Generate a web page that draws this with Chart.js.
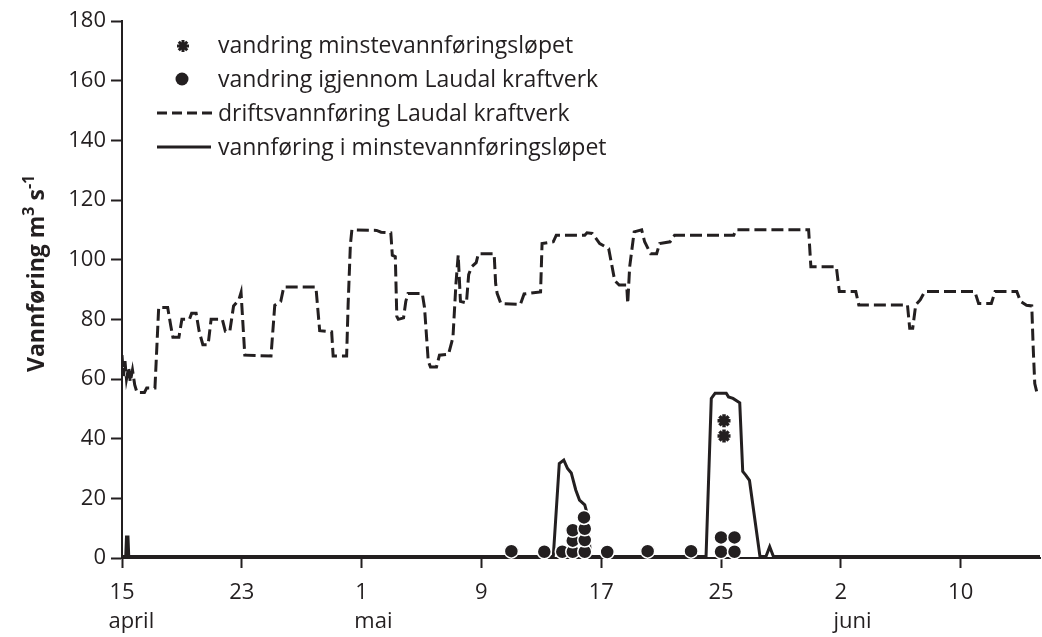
<!DOCTYPE html>
<html>
<head>
<meta charset="utf-8">
<script src="https://cdn.jsdelivr.net/npm/chart.js@4.4.1/dist/chart.umd.min.js"></script>
<style>
  html, body { margin: 0; padding: 0; background: #fff; }
  canvas { display: block; }
</style>
</head>
<body>
<canvas id="flowChart" width="1042" height="637"></canvas>
<script>
// days after 15 April
const tickLabels = ['15', '23', '1', '9', '17', '25', '2', '10'];
const monthLabels = ['april', '', 'mai', '', '', '', 'juni', ''];

// driftsvannføring Laudal kraftverk (m3/s)
const driftDays = [
    0, 0.1, 0.2, 0.3, 0.45, 0.55, 0.7, 0.85, 1.0, 1.5, 1.65, 2.2, 2.45, 3.05, 3.25, 3.4, 3.8,
    4.0, 4.5, 4.65, 4.95, 5.15, 5.4, 5.75, 5.95, 6.7, 6.9, 7.2, 7.45, 7.8, 7.95, 8.2, 9.95,
    10.2, 10.6, 10.8, 12.95, 13.2, 14.0, 14.1, 15.0, 15.1, 15.25, 15.35, 17.0, 17.3, 17.95,
    18.05, 18.25, 18.35, 18.45, 18.8, 18.95, 19.1, 20.05, 20.2, 20.45, 20.6, 21.0, 21.2, 21.8,
    22.0, 22.1, 22.3, 22.45, 22.6, 23.0, 23.15, 23.35, 23.65, 23.8, 24.85, 24.95, 25.05, 25.3,
    26.6, 26.85, 27.95, 28.05, 28.8, 29.0, 30.9, 31.05, 31.4, 31.9, 32.5, 32.9, 33.2, 33.7,
    33.77, 33.9, 34.2, 34.7, 34.9, 35.3, 35.7, 35.9, 36.6, 36.9, 40.85, 41.0, 45.85, 46.0,
    47.7, 47.9, 49.0, 49.2, 52.45, 52.6, 52.8, 53.0, 53.3, 53.6, 56.95, 57.2, 58.05, 58.3,
    59.75, 60.0, 60.4, 60.75, 60.85, 60.95, 61.1, 61.3
];
const driftFlow = [
    68, 61, 66, 60, 64, 59, 63, 58, 55.5, 55.5, 57, 57, 84, 84, 78, 74, 74,
    80, 80, 82, 82, 76, 71.5, 71.5, 80, 80, 76, 76, 84.5, 86.5, 89, 68, 67.7,
    84.7, 86, 90.8, 90.8, 76.2, 75.8, 67.7, 67.7, 85, 105, 110, 109.8, 109.2, 109,
    101.5, 101, 81, 80, 80.5, 86, 88.7, 88.7, 84, 66, 64, 64, 68, 68.3,
    72, 74, 92, 101.5, 86, 85.5, 95, 97.6, 99, 102, 102, 92, 88.7, 85.3,
    85, 88.5, 89.2, 105.4, 106, 108.2, 108.2, 109, 108.8, 105.4, 103.7, 93, 91.5, 91.5,
    85.3, 97.6, 109.3, 110, 106, 102, 102, 105.4, 106, 108.2, 108.2, 110, 110, 97.6,
    97.6, 89.3, 89.3, 84.8, 84.8, 77, 77, 84.8, 86.5, 89.3, 89.3, 85.3, 85.3, 89.3,
    89.3, 86, 84.7, 84.5, 70, 58.5, 55.3, 55.3
];

// vannføring i minstevannføringsløpet (m3/s)
const minsteDays = [
    0, 0.25, 0.3, 0.4, 0.45, 28.8, 29.2, 29.5, 29.75, 30.0, 30.3, 30.55, 30.9, 31.0, 31.3,
    39.0, 39.35, 39.6, 40.35, 40.5, 40.8, 41.25, 41.45, 41.65, 41.9, 42.6, 43.0, 43.25, 43.5, 61.3
];
const minsteFlow = [
    0.5, 0.5, 7, 7, 0.5, 0.5, 31.7, 32.8, 30, 28.5, 22.8, 19.4, 17.8, 16, 0.5,
    0.5, 53.5, 55.2, 55.2, 54, 53.5, 52, 29, 27.8, 26, 0.5, 0.5, 3.8, 0.5, 0.5
];

// fisk som vandret gjennom Laudal kraftverk
const plantDays = [26.0, 28.2, 29.4, 30.1, 30.1, 30.1, 30.9, 30.9, 30.9, 30.85, 32.4, 35.1, 38.0, 40.0, 40.0, 40.9, 40.9];
const plantFlow = [2.3, 2.1, 2.1, 2.1, 5.8, 9.3, 2.1, 6.0, 9.8, 13.6, 2.0, 2.3, 2.3, 2.1, 6.9, 2.1, 6.9];

// fisk som vandret i minstevannføringsløpet
const channelDays = [40.2, 40.2];
const channelFlow = [46, 40.9];

const ink = '#231f20';
const font = "'Open Sans', 'Noto Sans', sans-serif";

const toPoints = (xs, ys) => xs.map((x, i) => ({ x: x, y: ys[i] }));

// legend, y title and month names drawn straight on the canvas
const extras = {
    id: 'extras',
    afterDraw(chart) {
        const ctx = chart.ctx;
        const xScale = chart.scales.x;
        ctx.save();
        ctx.fillStyle = ink;
        ctx.strokeStyle = ink;

        // month names under the day numbers
        ctx.font = '22px ' + font;
        ctx.textAlign = 'left';
        ctx.textBaseline = 'alphabetic';
        xScale.ticks.forEach((t, i) => {
            if (!monthLabels[i]) return;
            const px = xScale.getPixelForValue(t.value);
            const w = ctx.measureText(tickLabels[i]).width;
            ctx.fillText(monthLabels[i], px - w / 2 - 1, 628);
        });

        // legend
        ctx.font = '23px ' + font;
        const rows = [
            { text: 'vandring minstevannføringsløpet', y: 53 },
            { text: 'vandring igjennom Laudal kraftverk', y: 86.5 },
            { text: 'driftsvannføring Laudal kraftverk', y: 120.5 },
            { text: 'vannføring i minstevannføringsløpet', y: 154.5 }
        ];
        rows.forEach(r => ctx.fillText(r.text, 218, r.y));

        // star symbol
        ctx.lineWidth = 3;
        ctx.beginPath();
        for (let a = 0; a < 4; a++) {
            const ang = a * Math.PI / 4;
            ctx.moveTo(183 - 6 * Math.cos(ang), 46 - 6 * Math.sin(ang));
            ctx.lineTo(183 + 6 * Math.cos(ang), 46 + 6 * Math.sin(ang));
        }
        ctx.stroke();
        // dot symbol
        ctx.beginPath();
        ctx.arc(182, 79, 6.5, 0, Math.PI * 2);
        ctx.fill();
        // dashed and solid line samples
        ctx.lineWidth = 3;
        ctx.setLineDash([10, 5]);
        ctx.beginPath();
        ctx.moveTo(157, 113);
        ctx.lineTo(213, 113);
        ctx.stroke();
        ctx.setLineDash([]);
        ctx.beginPath();
        ctx.moveTo(157, 147);
        ctx.lineTo(211, 147);
        ctx.stroke();

        // y axis title with superscripts
        ctx.translate(44, 372);
        ctx.rotate(-Math.PI / 2);
        const big = 'bold 23px ' + font;
        const small = 'bold 16px ' + font;
        let x = 0;
        const part = (txt, f, dy) => {
            ctx.font = f;
            ctx.fillText(txt, x, dy);
            x += ctx.measureText(txt).width;
        };
        part('Vannføring m', big, 0);
        part('3', small, -10);
        part(' s', big, 0);
        part('-1', small, -10);
        ctx.restore();
    }
};

const axisGrid = {
    drawOnChartArea: false,
    drawTicks: true,
    tickLength: 10,
    tickWidth: 2,
    tickColor: ink
};

new Chart(document.getElementById('flowChart'), {
    type: 'line',
    data: {
        datasets: [
            {
                label: 'vandring minstevannføringsløpet',
                data: toPoints(channelDays, channelFlow),
                showLine: false,
                pointStyle: 'star',
                pointRadius: 6.5,
                borderColor: ink,
                backgroundColor: ink,
                pointBorderWidth: 3.5,
                clip: false,
                order: 0
            },
            {
                label: 'vandring igjennom Laudal kraftverk',
                data: toPoints(plantDays, plantFlow),
                showLine: false,
                pointStyle: 'circle',
                pointRadius: 7,
                pointBackgroundColor: ink,
                pointBorderColor: '#ffffff',
                pointBorderWidth: 1.5,
                clip: false,
                order: 1
            },
            {
                label: 'driftsvannføring Laudal kraftverk',
                data: toPoints(driftDays, driftFlow),
                borderColor: ink,
                borderWidth: 3,
                borderDash: [12, 5],
                pointRadius: 0,
                tension: 0,
                fill: false,
                order: 2
            },
            {
                label: 'vannføring i minstevannføringsløpet',
                data: toPoints(minsteDays, minsteFlow),
                borderColor: ink,
                borderWidth: 3,
                pointRadius: 0,
                tension: 0,
                fill: false,
                order: 3
            }
        ]
    },
    options: {
        responsive: false,
        animation: false,
        layout: { autoPadding: false, padding: { top: 21, right: 2, left: 0, bottom: 0 } },
        plugins: {
            legend: { display: false },
            tooltip: { enabled: false }
        },
        scales: {
            x: {
                type: 'linear',
                min: 0,
                max: 61.3,
                grid: axisGrid,
                border: { display: true, color: ink, width: 2 },
                ticks: {
                    stepSize: 8,
                    includeBounds: false,
                    autoSkip: false,
                    maxRotation: 0,
                    padding: 12,
                    color: ink,
                    font: { family: font, size: 22 },
                    callback: value => tickLabels[Math.round(value / 8)]
                },
                afterFit: scale => {
                    scale.height = 79;
                    scale.paddingLeft = 0;
                    scale.paddingRight = 0;
                }
            },
            y: {
                min: 0,
                max: 180,
                grid: Object.assign({}, axisGrid, { tickLength: 11 }),
                border: { display: true, color: ink, width: 2 },
                ticks: {
                    stepSize: 20,
                    padding: 5,
                    color: ink,
                    font: { family: font, size: 22 }
                },
                afterFit: scale => { scale.width = 122; }
            }
        }
    },
    plugins: [extras]
});
</script>
</body>
</html>
